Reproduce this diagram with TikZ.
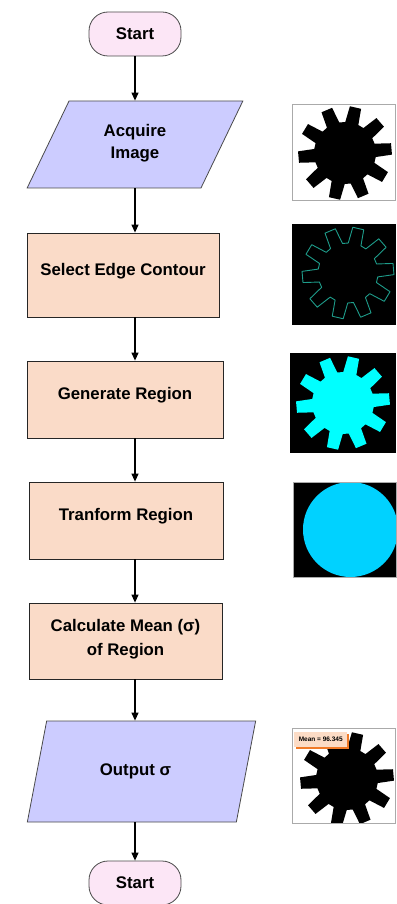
\documentclass[tikz,border=0pt]{standalone}
\usepackage{fontspec}
\setmainfont{Liberation Sans}
\usetikzlibrary{arrows.meta,shapes.geometric}

\definecolor{termfill}{HTML}{FCE6F6}
\definecolor{iofill}{HTML}{CCCCFF}
\definecolor{procfill}{HTML}{FADBC8}
\definecolor{edgegray}{HTML}{4A4A4A}
\definecolor{framegray}{HTML}{AAAAAA}
\definecolor{contourteal}{HTML}{1E9C8A}
\definecolor{regioncyan}{HTML}{00FFFF}
\definecolor{circlecyan}{HTML}{00D2FF}
\definecolor{tagfill}{HTML}{FCDCC6}
\definecolor{tagshade}{HTML}{F07A28}

% ten-tooth gear outline: #1 = centre, #2 = phase angle, #3 = outer radius, #4 = root radius
\newcommand\gearoutline[4]{%
  [shift={#1}] ({#2-12.5}:#4)
  \foreach \k in {0,...,9} {
    -- ({#2+\k*36-12.5}:#4) -- ({#2+\k*36-7}:#3)
    -- ({#2+\k*36+7}:#3) -- ({#2+\k*36+12.5}:#4)
  } -- cycle}

\begin{document}
\begin{tikzpicture}[x=1pt,y=-1pt,
  font=\bfseries\fontsize{16.8}{24}\selectfont,
  terminal/.style={rectangle, rounded corners=19pt, draw=edgegray, line width=0.8pt,
    fill=termfill, minimum width=92pt, minimum height=44pt, inner sep=0pt},
  iobox/.style={trapezium, trapezium stretches=true, draw=edgegray, line width=0.8pt,
    fill=iofill, inner sep=0pt, align=center},
  procbox/.style={rectangle, draw=black!85, line width=0.8pt, fill=procfill,
    inner sep=0pt, align=center},
  oneline/.style={text height=12pt, text depth=12pt},
  flow/.style={-{Triangle[length=8pt,width=7pt]}, line width=1.2pt, black},
  photo/.style={draw=framegray, line width=1pt},
]
\useasboundingbox (0,0) rectangle (396,904);

% ---- flow chart ----
\node[terminal] (start) at (135,34) {Start};
\node[iobox, trapezium left angle=63.7, trapezium right angle=116.3,
      minimum width=216pt, minimum height=87pt] (acq) at (135,144.5) {Acquire\\[-2pt]Image\\[-18pt]};
\node[procbox, oneline, minimum width=192pt, minimum height=84pt] (sel) at (123,275) {Select Edge Contour};
\node[procbox, oneline, minimum width=196pt, minimum height=77pt] (gen) at (125,399.5) {Generate Region};
\node[procbox, oneline, minimum width=194pt, minimum height=77pt] (tra) at (126,520.5) {Tranform Region};
\node[procbox, minimum width=193pt, minimum height=76pt] (calc) at (125.5,641) {Calculate Mean (σ)\\of Region\\[-16pt]};
\node[iobox, trapezium left angle=68.4, trapezium right angle=111.6,
      minimum width=229pt, minimum height=101pt] (out) at (141.5,771.5) {\hspace*{-12pt}Output σ};
\node[terminal] (stop) at (135,883) {Start};

\draw[flow] (start) -- (acq.north -| start);
\draw[flow] (acq.south -| start) -- (sel.north -| start);
\draw[flow] (sel.south -| start) -- (gen.north -| start);
\draw[flow] (gen.south -| start) -- (tra.north -| start);
\draw[flow] (tra.south -| start) -- (calc.north -| start);
\draw[flow] (calc.south -| start) -- (out.north -| start);
\draw[flow] (out.south -| start) -- (stop);

% ---- image panels ----
% acquired image
\begin{scope}
  \clip (292,105) rectangle (396,200);
  \fill[white] (292,105) rectangle (396,200);
  \fill[black] \gearoutline{(345,153)}{103}{47}{31};
\end{scope}
\draw[photo] (292,105) rectangle (395.5,200);

% edge contour
\begin{scope}
  \clip (292,224) rectangle (396,325);
  \fill[black] (292,224) rectangle (396,325);
  \draw[contourteal, line width=0.9pt, line join=round] \gearoutline{(348,273)}{103}{46}{30};
\end{scope}

% generated region
\begin{scope}
  \clip (290,353) rectangle (396,453);
  \fill[black] (290,353) rectangle (396,453);
  \fill[regioncyan] \gearoutline{(343,403)}{103}{47}{31};
\end{scope}

% transformed region
\begin{scope}
  \clip (293,482) rectangle (396,577);
  \fill[black] (293,482) rectangle (396,577);
  \fill[circlecyan] (350.5,529.5) circle[radius=47.5];
\end{scope}
\draw[framegray, line width=0.6pt] (293,482) rectangle (396,577);

% output image
\begin{scope}
  \clip (292,728) rectangle (396,823);
  \fill[white] (292,728) rectangle (396,823);
  \fill[black] \gearoutline{(347,779)}{103}{47}{31};
\end{scope}
\draw[photo] (292,728) rectangle (395.5,823);
\fill[tagshade] (295.5,733.5) rectangle (348.5,748.5);
\node[fill=tagfill, anchor=north west, minimum width=53pt, minimum height=15pt, inner sep=0pt,
      font=\bfseries\fontsize{6.5}{7}\selectfont] (meantag) at (294,732) {Mean = 96.345};
\end{tikzpicture}
\end{document}
